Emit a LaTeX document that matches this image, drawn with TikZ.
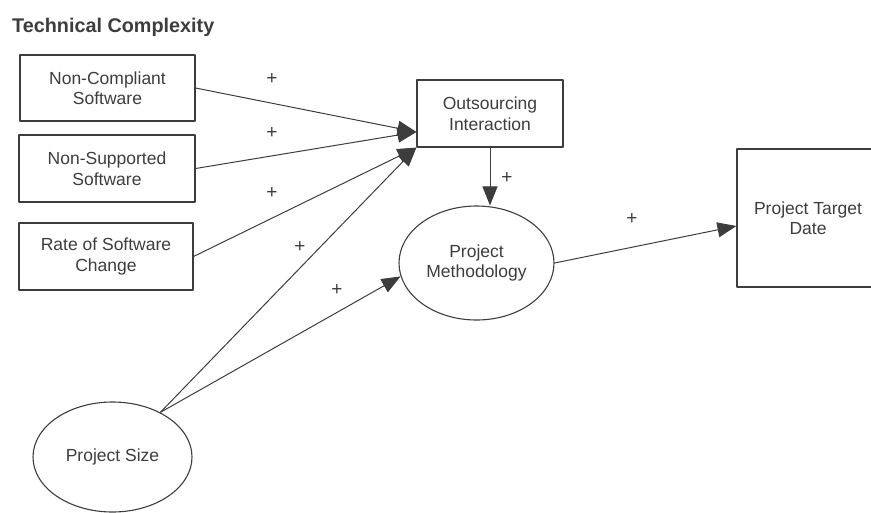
\documentclass[tikz,border=0pt]{standalone}
\usepackage{fontspec}
\setmainfont{Liberation Sans}
\usetikzlibrary{arrows.meta}
\usetikzlibrary{shapes.geometric}
\definecolor{ink}{gray}{0.24}

\begin{document}
\begin{tikzpicture}[line cap=round,line join=round,>={Triangle[length=19pt,width=15pt]},x=1pt,y=-1pt,
  box/.style={draw=ink,line width=1.1pt,rectangle,align=center,text=ink,inner sep=2pt,font=\fontsize{17.5}{20.5}\selectfont},
  oval/.style={box,ellipse},
  link/.style={->,draw=ink,line width=1pt},
  sign/.style={text=ink,inner sep=0pt,font=\fontsize{19}{19}\selectfont}]
\clip (0,0) rectangle (871,512);
%\useasboundingbox (0,0) rectangle (871,512);
\node[anchor=base west,inner sep=0pt,text=ink,font=\fontsize{19.8}{22}\selectfont\bfseries] (title) at (12,32) {Technical Complexity};
\node[box,minimum width=175pt,minimum height=66pt] (noncomp) at (107.5,88) {Non-Compliant\\Software};
\node[box,minimum width=176pt,minimum height=67pt] (nonsupp) at (107,168.5) {Non-Supported\\Software};
\node[box,minimum width=174pt,minimum height=67pt] (rate) at (106,256.5) {Rate of Software\\Change};
\node[box,minimum width=146pt,minimum height=67pt] (out) at (490,113.5) {Outsourcing\\Interaction};
\node[oval,minimum width=155pt,minimum height=114pt] (meth) at (476.5,263) {Project\\Methodology};
\node[box,minimum width=142pt,minimum height=138pt] (date) at (808,218) {Project Target\\Date};
\node[oval,minimum width=159pt,minimum height=110pt] (size) at (112.5,457) {Project Size};
%arrow ends
\coordinate (outin) at ([yshift=-18.5pt]out.west);
\coordinate (datein) at ([yshift=-8pt]date.west);
%connectors
\draw [link] (noncomp.east) -- (outin);
\draw [link] (nonsupp.east) -- (outin);
\draw [link] (rate.east) -- (out.south west);
\draw [link] (size.43) -- (out.south west);
\draw [link] (size.43) -- (meth.190);
\draw [link] (out.south) -- (out.south |- meth.north);
\draw [link] (meth.east) -- (datein);
%signs
\node[sign] (plusA) at (272,79) {+};
\node[sign] (plusB) at (272,133) {+};
\node[sign] (plusC) at (272,193) {+};
\node[sign] (plusD) at (300,247) {+};
\node[sign] (plusE) at (337,290) {+};
\node[sign] (plusF) at (507,178) {+};
\node[sign] (plusG) at (632,219) {+};
\end{tikzpicture}
\end{document}
